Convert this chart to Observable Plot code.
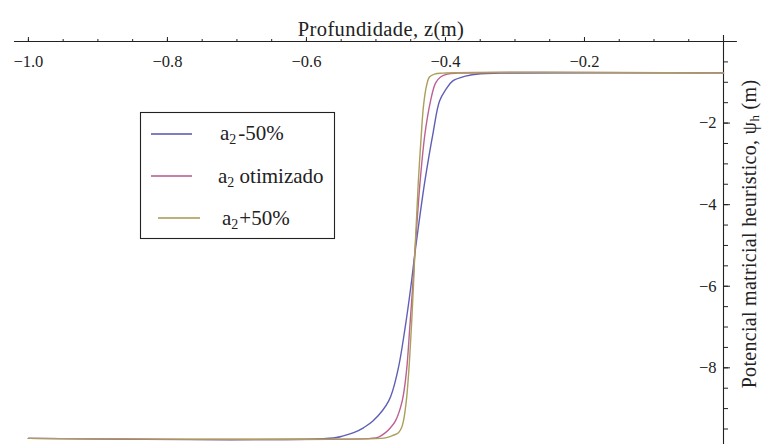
<!DOCTYPE html>
<html>
<head>
<meta charset="utf-8">
<script src="https://cdn.jsdelivr.net/npm/d3@7"></script>
<script src="https://cdn.jsdelivr.net/npm/@observablehq/plot@0.6"></script>
<style>
  html, body { margin: 0; padding: 0; background: #fff; }
  #chart { width: 762px; height: 444px; }
  #chart svg, #chart svg text, #chart svg tspan { font-family: "Liberation Serif", "Times New Roman", serif !important; }
</style>
</head>
<body>
<div id="chart"></div>
<script>
// Heuristic matric potential ψh versus depth z for three values of parameter a2
const seriesNames = ["a2 -50%", "a2 otimizado", "a2 +50%"];
const seriesColors = ["#5f5fb6", "#bb6194", "#ab9f5a"];

// a2 -50%
const depthLow = [-1.0, -0.561, -0.547, -0.532, -0.518, -0.504, -0.4816, -0.4686, -0.4579, -0.4497, -0.4441, -0.4378, -0.4294, -0.4179, -0.4085, -0.3992, -0.3898, -0.3712, -0.3496, -0.3208, 0.0];
const psiLow   = [-9.73, -9.72, -9.67, -9.59, -9.47, -9.30, -8.81, -8.07, -7.0, -6.0, -5.21, -4.4, -3.4, -2.25, -1.46, -1.17, -0.97, -0.85, -0.79, -0.775, -0.77];

// a2 otimizado
const depthOpt = [-1.0, -0.5078, -0.4963, -0.4863, -0.4791, -0.4719, -0.4622, -0.4560, -0.4513, -0.4471, -0.4441, -0.4408, -0.4363, -0.4294, -0.4215, -0.4143, -0.4071, -0.3971, -0.3827, 0.0];
const psiOpt   = [-9.73, -9.73, -9.70, -9.59, -9.47, -9.30, -8.81, -8.07, -7.0, -6.0, -5.21, -4.4, -3.4, -2.25, -1.46, -1.02, -0.87, -0.80, -0.776, -0.77];

// a2 +50%
const depthHigh = [-1.0, -0.4935, -0.4848, -0.4762, -0.4676, -0.4632, -0.4604, -0.4563, -0.4527, -0.4490, -0.4461, -0.4441, -0.4418, -0.4389, -0.4349, -0.4316, -0.4273, -0.4230, -0.4158, -0.4043, 0.0];
const psiHigh   = [-9.73, -9.73, -9.71, -9.66, -9.59, -9.47, -9.30, -8.81, -8.07, -7.0, -6.0, -5.21, -4.4, -3.4, -2.32, -1.58, -1.09, -0.87, -0.80, -0.775, -0.77];

// Axis ticks
const xMajor = [-1.0, -0.8, -0.6, -0.4, -0.2];
const xMinor = d3.range(-20, 0).map(i => i * 0.05);
const yMajor = [-2, -4, -6, -8];
const yMinor = d3.range(-19, 0).map(i => i * 0.5);

const rows = [
  ...depthLow.map((z, i) => ({series: seriesNames[0], depth: z, psi: psiLow[i]})),
  ...depthOpt.map((z, i) => ({series: seriesNames[1], depth: z, psi: psiOpt[i]})),
  ...depthHigh.map((z, i) => ({series: seriesNames[2], depth: z, psi: psiHigh[i]}))
];

const minus = "\u2212";
const fmtX = d => (d < 0 ? minus : "") + Math.abs(d).toFixed(1);
const fmtY = d => (d < 0 ? minus : "") + Math.abs(d);
const axisColor = "#222";
const serif = "Liberation Serif, serif";

const plot = Plot.plot({
  width: 762,
  height: 444,
  marginTop: 41,
  marginBottom: 0,
  marginLeft: 14,
  marginRight: 39,
  x: {domain: [-1.02, 0]},
  y: {domain: [-9.88, 0]},
  color: {domain: seriesNames, range: seriesColors},
  style: {fontSize: "16.5px", color: axisColor, background: "#fff", overflow: "visible"},
  marks: [
    // axes crossing at the origin
    Plot.ruleY([0], {x1: -1.02, x2: 0.02, stroke: axisColor, strokeWidth: 1.1}),
    Plot.ruleX([0], {y1: -9.88, y2: 0.15, stroke: axisColor, strokeWidth: 1.1}),
    Plot.axisX({anchor: "top", ticks: xMinor, tickSize: 3, tickFormat: () => "", label: null}),
    Plot.axisX({anchor: "top", ticks: xMajor, tickSize: 5, tickFormat: () => "", label: null}),
    Plot.text(xMajor, {x: d => d, frameAnchor: "top", dy: 14, text: fmtX, fill: axisColor}),
    Plot.axisY({anchor: "right", ticks: yMinor, tickSize: 4, tickFormat: () => "", label: null}),
    Plot.axisY({anchor: "right", ticks: yMajor, tickSize: 6, tickFormat: () => "", label: null}),
    Plot.text(yMajor, {y: d => d, frameAnchor: "right", dx: -7, textAnchor: "end", text: fmtY, fill: axisColor}),
    // curves
    Plot.line(rows, {x: "depth", y: "psi", z: "series", stroke: "series", curve: "catmull-rom", strokeWidth: 1.4}),
    // x axis title
    Plot.text(["Profundidade, z(m)"], {frameAnchor: "top", dx: 12, dy: -20, fontSize: 20.5, fill: axisColor})
  ]
});

document.getElementById("chart").appendChild(plot);

const svg = d3.select(plot);
svg.selectAll("text").filter(function() { return this.textContent === "Profundidade, z(m)"; })
  .attr("letter-spacing", 0.4);

// y axis title with subscript
const yTitle = svg.append("text")
  .attr("transform", "translate(748.5,234) rotate(-90)")
  .attr("text-anchor", "middle")
  .attr("dy", "0.35em")
  .attr("font-size", 20)
  .attr("letter-spacing", 0.3)
  .attr("fill", axisColor)
  .attr("font-family", serif);
yTitle.append("tspan").text("Potencial matricial heuristico, \u03c8");
yTitle.append("tspan").attr("font-size", 13).attr("dy", 3).text("h");
yTitle.append("tspan").attr("dy", -3).text(" (m)");

// legend box
const legend = svg.append("g")
  .attr("font-family", serif)
  .attr("font-size", 21)
  .attr("text-anchor", "start")
  .attr("fill", axisColor);
legend.append("rect")
  .attr("x", 140.5).attr("y", 112.5).attr("width", 194).attr("height", 126)
  .attr("fill", "#fff").attr("stroke", axisColor).attr("stroke-width", 1.1);

const legendRows = [
  {line: [151, 192], y: 134, tx: 220, ty: 140, rest: "-50%", gap: 2},
  {line: [151, 192], y: 176, tx: 218, ty: 183, rest: " otimizado", gap: 0},
  {line: [158, 200], y: 218, tx: 222, ty: 225, rest: "+50%", gap: 1}
];
legendRows.forEach((r, i) => {
  legend.append("line")
    .attr("x1", r.line[0]).attr("x2", r.line[1])
    .attr("y1", r.y).attr("y2", r.y)
    .attr("stroke", seriesColors[i]).attr("stroke-width", 2).attr("opacity", 0.8);
  const t = legend.append("text").attr("x", r.tx).attr("y", r.ty).attr("text-anchor", "start");
  t.append("tspan").text("a");
  t.append("tspan").attr("font-size", 14).attr("dy", 4).text("2");
  t.append("tspan").attr("dy", -4).attr("dx", r.gap).text(r.rest);
});
</script>
</body>
</html>
